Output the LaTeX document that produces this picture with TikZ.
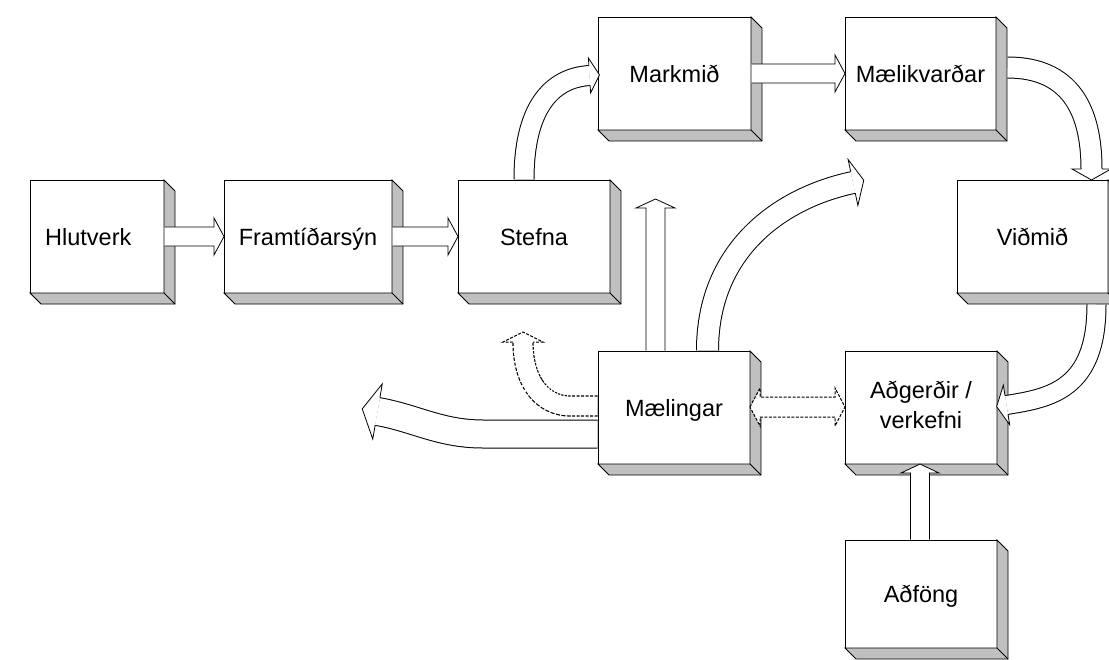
\documentclass[tikz,border=0pt]{standalone}
\usepackage{fontspec}
\setmainfont{Liberation Sans}
\usetikzlibrary{calc}
\definecolor{boxgray}{RGB}{192,192,192}
\newcommand\boxfont{\fontsize{23.5}{28}\selectfont}
% depth (right and bottom faces) of a box node
\newcommand\shadebox[1]{%
  \filldraw[fill=boxgray,draw=black,line join=miter] (#1.north east) -- ++(11,11) -- ($(#1.south east)+(11,11)$) -- ($(#1.south west)+(11,11)$) -- (#1.south west) -- (#1.south east) -- cycle;
  \draw (#1.south east) -- ++(11,11);}
% block arrow head: [style]{position}{angle}{half shaft}{half head}{length}
\newcommand\bhead[6][]{%
  \begin{scope}[shift={#2},rotate=#3]
    \fill[white] (0,-#4) -- (0,-#5) -- (#6,0) -- (0,#5) -- (0,#4) -- cycle;
    \draw[line join=miter,#1] (0,-#4) -- (0,-#5) -- (#6,0) -- (0,#5) -- (0,#4);
  \end{scope}}
% straight block arrow: [style]{start}{angle}{shaft length}{half shaft}{half head}{head length}
\newcommand\sarrow[7][]{%
  \begin{scope}[shift={#2},rotate=#3]
    \fill[white] (0,-#5) -- (#4,-#5) -- (#4,-#6) -- ({#4+#7},0) -- (#4,#6) -- (#4,#5) -- (0,#5) -- cycle;
    \draw[line join=miter,#1] (0,-#5) -- (#4,-#5) -- (#4,-#6) -- ({#4+#7},0) -- (#4,#6) -- (#4,#5) -- (0,#5);
  \end{scope}}
\begin{document}
\begin{tikzpicture}[x=1pt,y=-1pt,line width=0.8pt,
  dbox/.style={draw=black,fill=white,rectangle,minimum width=152pt,minimum height=113pt,
    anchor=north west,outer sep=0pt,inner sep=0pt,font=\boxfont,text height=17pt,text depth=0pt},
  dashy/.style={dash pattern=on 3pt off 1.5pt,line width=1pt},
  shaft/.style={draw=white,line width=#1-1pt,preaction={draw=black,line width=#1+1pt}},
  shaftd/.style={draw=white,line width=#1-1.2pt,preaction={draw=black,line width=#1+1.2pt,dash pattern=on 3pt off 1.5pt}},
  boxtext/.style={font=\boxfont,anchor=base,inner sep=0pt}]
\useasboundingbox (0,0) rectangle (1109,659);
\clip (0,0) rectangle (1109,659);

% boxes
\node[dbox,minimum width=134pt] (hlut) at (30,180) {\hspace*{-17.4pt}Hlutverk};
\node[dbox,minimum width=168pt] (fram) at (224,180) {Framtíðarsýn};
\node[dbox] (stef) at (458,180) {Stefna};
\node[dbox,minimum width=153pt] (mark) at (598,17) {Markmið};
\node[dbox,minimum width=151pt] (maeli) at (845,17) {Mælikvarðar};
\node[dbox,minimum width=151pt] (vidm) at (957,180) {Viðmið};
\node[dbox] (mael) at (598,351) {Mælingar};
\node[dbox] (adg) at (845,351) {};
\node[boxtext] (adgA) at ($(adg.center)+(0,-9.5)$) {Aðgerðir /};
\node[boxtext] (adgB) at ($(adg.center)+(0,20.5)$) {verkefni};
\node[dbox,minimum height=108pt] (adf) at (845,540) {Aðföng};

\foreach \b in {hlut,fram,stef,mark,maeli,vidm,mael,adg,adf} {\shadebox{\b}}

% straight arrows
\sarrow{($(hlut.east)+(0.5,0)$)}{0}{49.5}{9.5}{18.5}{10}
\sarrow{($(fram.east)+(0.5,0)$)}{0}{55.5}{9.5}{18.5}{10}
\sarrow{($(mark.east)+(0.5,0)$)}{0}{83.5}{9.5}{18.5}{10}
\sarrow{($(adf.north)+(-1,-0.5)$)}{90}{66.5}{9.5}{19}{9}
\sarrow{($(mael.north)+(-18.5,-0.5)$)}{90}{142.5}{9.5}{19.5}{9}

% Stefna -> Markmid
\draw[shaft=20pt] ($(stef.north)+(-10,-0.5)$) .. controls (524,110) and (550,78) .. ($(mark.west)+(-8.5,2)$);
\bhead{($(mark.west)+(-8.5,2)$)}{3.6}{10}{17.5}{10}

% Maelikvardar -> Vidmid
\draw[shaft=21pt] ($(maeli.east)+(11.5,-6)$) .. controls (1070,67.5) and (1091.5,110) .. ($(vidm.north)+(59,-11)$);
\bhead{($(vidm.north)+(59,-11)$)}{-90}{10.5}{19.5}{11}

% Vidmid -> Adgerdir
\draw[shaft=19pt] ($(vidm.south)+(64,11.5)$) .. controls (1096.5,390) and (1050,398) .. ($(adg.east)+(9.5,-2.5)$);
\bhead{($(adg.east)+(9.5,-2.5)$)}{189.1}{9.5}{20}{10}

% Maelingar curved up-right
\draw[shaft=22pt] ($(mael.north)+(33.5,-0.5)$) .. controls (707.5,250) and (780,198) .. (853,182.5);
\bhead{(853,182.5)}{12}{11}{23.5}{11}

% Maelingar big left arrow
\draw[shaft=28pt] ($(mael.west)+(-0.5,26.5)$) -- (483,434) .. controls (440,434) and (415,418) .. (377.5,411.5);
\bhead{(377.5,411.5)}{170.2}{14}{28}{15.5}

% Maelingar dashed curved arrow
\draw[shaftd=20pt] ($(mael.west)+(-0.5,-1.5)$) -- (570,406) .. controls (545,406) and (523,385) .. (523,342);
\bhead[dashy]{(523,342)}{90}{10}{20}{10}

% Maelingar <-> Adgerdir dashed double arrow
\begin{scope}[shift={($(mael.east)+(0,-0.5)$)}]
  \fill[white] (0,0) -- (10,-19) -- (10,-10) -- (85,-10) -- (85,-19) -- (95,0) -- (85,19) -- (85,10) -- (10,10) -- (10,19) -- cycle;
  \draw[dashy,line join=miter] (0,0) -- (10,-19) -- (10,-10) -- (85,-10) -- (85,-19) -- (95,0) -- (85,19) -- (85,10) -- (10,10) -- (10,19) -- cycle;
\end{scope}
\end{tikzpicture}
\end{document}
